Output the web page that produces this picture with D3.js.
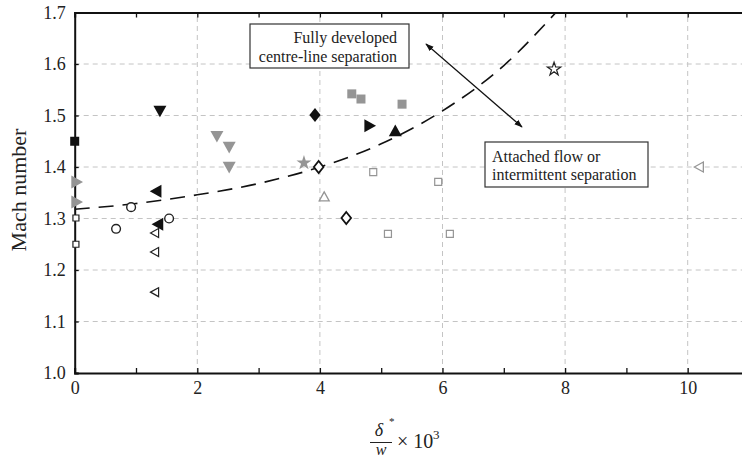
<!DOCTYPE html>
<html><head><meta charset="utf-8">
<script src="https://cdn.jsdelivr.net/npm/d3@7"></script>
<style>body{margin:0;background:#fff}svg{display:block}</style>
</head><body>
<svg id="c" width="742" height="459"></svg>
<script>
// ---- data ----
const xTicks = [0,2,4,6,8,10];
const yTicks = [1.0,1.1,1.2,1.3,1.4,1.5,1.6,1.7];
const blackSquare = [[0,1.45]];
const grayRightTri = [[0.03,1.371],[0.03,1.332]];
const openSmallSquare = [[0.02,1.301],[0.02,1.25]];
const openCircle = [[0.675,1.28],[0.92,1.322],[1.54,1.30]];
const blackLeftTri = [[1.33,1.353],[1.36,1.289]];
const openLeftTri = [[1.31,1.272],[1.31,1.235],[1.31,1.157]];
const blackDownTri = [[1.39,1.509]];
const grayDownTri = [[2.32,1.46],[2.52,1.439],[2.52,1.40]];
const blackDiamond = [[3.92,1.501]];
const grayStar = [[3.74,1.408]];
const openDiamond = [[3.98,1.40],[4.43,1.301]];
const grayOpenUpTri = [[4.07,1.342]];
const graySquare = [[4.52,1.542],[4.67,1.532],[5.34,1.522]];
const blackRightTri = [[4.81,1.48]];
const blackUpTri = [[5.23,1.47]];
const grayOpenSquare = [[4.87,1.39],[5.93,1.371],[5.11,1.27],[6.12,1.27]];
const openStar = [[7.82,1.59]];
const grayOpenLeftTri = [[10.19,1.40]];
const fitCurve = [[0,1.318],[1,1.329],[2,1.346],[3,1.368],[4,1.40],[5,1.445],[6,1.509],[7,1.597],[7.85,1.70]];

// ---- layout ----
const svg = d3.select("#c");
const x = d3.scaleLinear().domain([0,11]).range([74.7,749]);
const y = d3.scaleLinear().domain([1.0,1.7]).range([373,12.5]);
const SERIF = '"Liberation Serif", "Times New Roman", serif';
const GRAY = "#959595";

// grid
svg.append("g").selectAll("line").data(xTicks.filter(d=>d>0)).join("line")
  .attr("x1",d=>x(d)).attr("x2",d=>x(d)).attr("y1",y(1.0)).attr("y2",y(1.7))
  .attr("stroke","#c4c4c4").attr("stroke-width",1).attr("stroke-dasharray","5,4");
svg.append("g").selectAll("line").data(yTicks.filter(d=>d>1.0&&d<1.7)).join("line")
  .attr("x1",x(0)).attr("x2",742).attr("y1",d=>y(d)).attr("y2",d=>y(d))
  .attr("stroke","#c4c4c4").attr("stroke-width",1).attr("stroke-dasharray","5,4");

// axes
const axB = svg.append("g").attr("transform",`translate(0,${y(1.0)})`)
  .call(d3.axisBottom(x).tickValues(d3.range(0,12,1)).tickSize(-5).tickFormat(d=>d%2===0?d:""));
const axT = svg.append("g").attr("transform",`translate(0,${y(1.7)})`)
  .call(d3.axisTop(x).tickValues(d3.range(0,12,1)).tickSize(-5).tickFormat(""));
const axL = svg.append("g").attr("transform",`translate(${x(0)},0)`)
  .call(d3.axisLeft(y).tickValues(yTicks).tickSize(-4).tickFormat(d3.format(".1f")));
[axB,axT,axL].forEach(a=>{
  a.attr("font-family",null);
  a.select(".domain").attr("stroke","#111").attr("stroke-width",2);
  a.selectAll(".tick line").attr("stroke","#111").attr("stroke-width",1.3);
  a.selectAll("text").attr("font-size",18).attr("fill","#222").style("font-family",SERIF);
});
axB.selectAll("text").attr("dy","1.0em");
axL.selectAll("text").attr("x",-9);

// fit curve
svg.append("path").datum(fitCurve)
  .attr("d",d3.line().x(d=>x(d[0])).y(d=>y(d[1])).curve(d3.curveMonotoneX))
  .attr("fill","none").attr("stroke","#111").attr("stroke-width",1.6).attr("stroke-dasharray","15,9");

// marker shapes
function tri(dir,s){ // s = half size
  const pts={up:[[0,-s],[s,s*0.8],[-s,s*0.8]],down:[[0,s],[s,-s*0.8],[-s,-s*0.8]],
    left:[[-s,0],[s*0.8,-s],[s*0.8,s]],right:[[s,0],[-s*0.8,-s],[-s*0.8,s]]}[dir];
  return "M"+pts.map(p=>p.join(",")).join("L")+"Z";
}
const sq = s=>`M${-s},${-s}H${s}V${s}H${-s}Z`;
const dia = s=>`M0,${-s}L${s*0.8},0L0,${s}L${-s*0.8},0Z`;
const star = d3.symbol().type(d3.symbolStar);
function draw(data,path,fill,stroke,sw){
  svg.append("g").selectAll("path").data(data).join("path")
    .attr("transform",d=>`translate(${x(d[0])},${y(d[1])})`)
    .attr("d",path).attr("fill",fill).attr("stroke",stroke).attr("stroke-width",sw||1.2);
}
draw(blackSquare,sq(4.5),"#111","none");
draw(grayRightTri,tri("right",6.5),GRAY,"none");
draw(openSmallSquare,sq(3),"#fff","#222",1.2);
draw(openCircle,d3.symbol().type(d3.symbolCircle).size(60)(),"#fff","#222",1.4);
draw(blackLeftTri,tri("left",6.5),"#111","none");
draw(openLeftTri,tri("left",4.5),"#fff","#222",1.2);
draw(blackDownTri,tri("down",6.5),"#111","none");
draw(grayDownTri,tri("down",6.5),GRAY,"none");
draw(blackDiamond,dia(7),"#111","none");
draw(grayStar,star.size(70)(),GRAY,"none");
draw(openDiamond,dia(6),"#fff","#111",1.8);
draw(grayOpenUpTri,tri("up",5),"#fff",GRAY,1.3);
draw(graySquare,sq(4.5),GRAY,"none");
draw(blackRightTri,tri("right",6.5),"#111","none");
draw(blackUpTri,tri("up",6.5),"#111","none");
draw(grayOpenSquare,sq(3.5),"#fff",GRAY,1.2);
draw(openStar,star.size(55)(),"#fff","#222",1.2);
draw(grayOpenLeftTri,tri("left",5),"#fff",GRAY,1.3);

// annotations
function txt(xp,yp,s,size,anchor,italic){
  return svg.append("text").attr("x",xp).attr("y",yp).attr("text-anchor",anchor||"start")
    .attr("font-size",size).attr("fill","#222").attr("font-style",italic?"italic":"normal")
    .style("font-family",SERIF).text(s);
}
svg.append("rect").attr("x",250).attr("y",24).attr("width",159).attr("height",44)
  .attr("fill","#fff").attr("stroke","#333").attr("stroke-width",1.2);
txt(397,43,"Fully developed",16,"end");
txt(397,62,"centre-line separation",16,"end");

svg.append("rect").attr("x",485).attr("y",142).attr("width",163).attr("height",45)
  .attr("fill","#fff").attr("stroke","#333").attr("stroke-width",1.2);
txt(492,162,"Attached flow or",16);
txt(492,180,"intermittent separation",16);

const defs = svg.append("defs");
defs.append("marker").attr("id","ah").attr("viewBox","0 0 10 10").attr("refX",9).attr("refY",5)
  .attr("markerWidth",7).attr("markerHeight",7).attr("orient","auto-start-reverse")
  .append("path").attr("d","M0,1.5L10,5L0,8.5Z").attr("fill","#111");
svg.append("line").attr("x1",426).attr("y1",44).attr("x2",522).attr("y2",127)
  .attr("stroke","#111").attr("stroke-width",1.2)
  .attr("marker-start","url(#ah)").attr("marker-end","url(#ah)");

// axis titles
svg.append("text").attr("transform","translate(26,190) rotate(-90)").attr("text-anchor","middle")
  .attr("font-size",22).attr("fill","#222").style("font-family",SERIF).text("Mach number");
txt(379,436,"δ",18,"middle",true);
txt(389,425,"*",11,"start");
svg.append("line").attr("x1",370).attr("x2",392).attr("y1",442.5).attr("y2",442.5).attr("stroke","#222").attr("stroke-width",1);
txt(381,455,"w",16,"middle",true);
txt(397,448,"× 10",20,"start");
txt(433,439,"3",13,"start");
</script>
</body></html>
